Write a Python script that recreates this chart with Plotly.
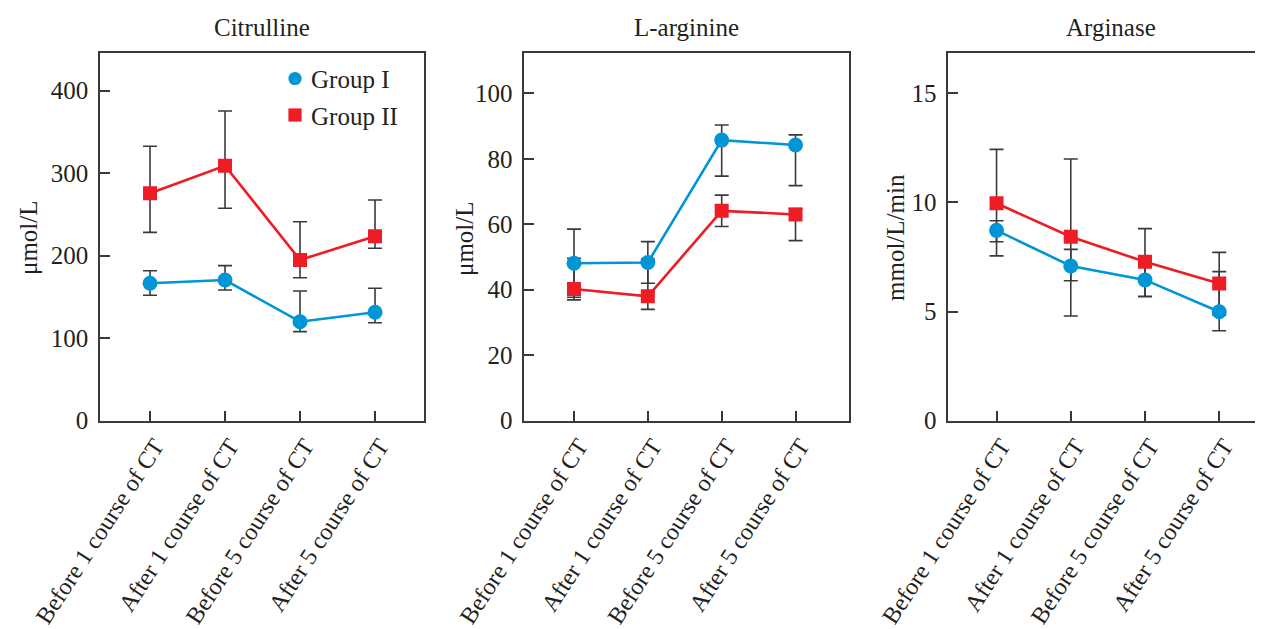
import plotly.graph_objects as go

# The page places the figure 8 px from the window's top-left corner,
# so the figure is sized to fill the rest of the 1263x629 window.
OFF = 8
W, H = 1263 - OFF, 629 - OFF

categories = ["Before 1 course of CT", "After 1 course of CT",
              "Before 5 course of CT", "After 5 course of CT"]

# Citrulline (µmol/L)
cit_g1 = [166.5, 170.5, 120.0, 131.4]
cit_g1_hi = [181.8, 187.9, 157.2, 160.5]
cit_g1_lo = [152.0, 158.4, 107.9, 118.8]
cit_g2 = [275.6, 309.0, 194.8, 223.5]
cit_g2_hi = [332.6, 375.4, 241.2, 267.5]
cit_g2_lo = [228.3, 257.4, 173.3, 209.0]

# L-arginine (µmol/L)
arg_g1 = [48.1, 48.3, 85.7, 84.2]
arg_g1_hi = [58.5, 54.7, 90.3, 87.3]
arg_g1_lo = [37.7, 42.0, 74.7, 71.8]
arg_g2 = [40.2, 38.0, 64.1, 63.0]
arg_g2_hi = [49.6, 49.4, 68.9, 64.8]
arg_g2_lo = [36.9, 34.0, 59.3, 55.0]

# Arginase (mmol/L/min)
ase_g1 = [8.72, 7.09, 6.45, 4.99]
ase_g1_hi = [9.16, 7.85, 7.22, 6.83]
ase_g1_lo = [8.20, 6.41, 5.68, 4.12]
ase_g2 = [9.96, 8.43, 7.28, 6.29]
ase_g2_hi = [12.43, 11.99, 8.80, 7.71]
ase_g2_lo = [7.55, 4.80, 5.70, 4.85]

group_names = ["Group I", "Group II"]
panel_titles = ["Citrulline", "L-arginine", "Arginase"]
y_titles = ["μmol/L", "μmol/L", "mmol/L/min"]
y_ranges = [[0, 446], [0, 112.4], [0, 16.86]]
y_dtick = [100, 20, 5]
x_ranges = [[-0.667, 3.653], [-0.673, 3.72], [-0.65, 3.59]]
x_px = [(100, 424), (524.3, 848.7), (948.3, 1263)]
y_px = (52.7, 420.7)

BLUE = "#0096d6"
RED = "#ee1c25"
AX = "#3a3a3a"
TXT = "#231f20"
FONT = "Liberation Serif"
FS = 25
FS_X = 24


def px(x):
    return (x - OFF) / W


def py(y):
    return 1 - (y - OFF) / H


panels = [
    (cit_g1, cit_g1_hi, cit_g1_lo, cit_g2, cit_g2_hi, cit_g2_lo),
    (arg_g1, arg_g1_hi, arg_g1_lo, arg_g2, arg_g2_hi, arg_g2_lo),
    (ase_g1, ase_g1_hi, ase_g1_lo, ase_g2, ase_g2_hi, ase_g2_lo),
]

xs = list(range(len(categories)))
fig = go.Figure()

for i, (g1, g1h, g1l, g2, g2h, g2l) in enumerate(panels):
    xa = "x" if i == 0 else f"x{i+1}"
    ya = "y" if i == 0 else f"y{i+1}"
    # error bars first (beneath lines and markers)
    for vals, hi, lo in [(g2, g2h, g2l), (g1, g1h, g1l)]:
        fig.add_trace(go.Scatter(
            x=xs, y=vals, xaxis=xa, yaxis=ya, mode="markers",
            marker=dict(size=1, opacity=0), showlegend=False, hoverinfo="skip",
            error_y=dict(type="data", symmetric=False,
                         array=[h - v for h, v in zip(hi, vals)],
                         arrayminus=[v - l for l, v in zip(lo, vals)],
                         color=AX, thickness=1.6, width=7)))
    fig.add_trace(go.Scatter(
        x=xs, y=g1, xaxis=xa, yaxis=ya, mode="lines+markers", name=group_names[0],
        line=dict(color=BLUE, width=2.6),
        marker=dict(symbol="circle", size=15, color=BLUE),
        showlegend=False))
    fig.add_trace(go.Scatter(
        x=xs, y=g2, xaxis=xa, yaxis=ya, mode="lines+markers", name=group_names[1],
        line=dict(color=RED, width=2.6),
        marker=dict(symbol="square", size=14, color=RED),
        showlegend=False))

layout = dict(
    width=W, height=H,
    margin=dict(l=0, r=0, t=0, b=0, autoexpand=False),
    paper_bgcolor="white", plot_bgcolor="white",
    font=dict(family=FONT, size=FS, color=TXT),
    showlegend=False,
)

annotations = []
shapes = []
for i in range(3):
    xk = "xaxis" if i == 0 else f"xaxis{i+1}"
    yk = "yaxis" if i == 0 else f"yaxis{i+1}"
    x0, x1 = x_px[i]
    layout[xk] = dict(
        domain=[px(x0), min(1.0, px(x1))], range=x_ranges[i],
        anchor="y" if i == 0 else f"y{i+1}",
        tickmode="array", tickvals=xs, ticktext=categories, tickangle=-57,
        ticks="inside", ticklen=10, tickwidth=1.5, tickcolor=AX,
        showline=True, linecolor=AX, linewidth=1.5, mirror=True,
        showgrid=False, zeroline=False, automargin=False, ticklabelshift=5,
        tickfont=dict(family=FONT, size=FS_X, color=TXT))
    layout[yk] = dict(
        domain=[py(y_px[1]), py(y_px[0])], range=y_ranges[i],
        anchor="x" if i == 0 else f"x{i+1}",
        tickmode="linear", tick0=0, dtick=y_dtick[i],
        ticks="inside", ticklen=10, tickwidth=1.5, tickcolor=AX,
        showline=True, linecolor=AX, linewidth=1.5, mirror=(i < 2),
        showgrid=False, zeroline=False, automargin=False, ticklabelstandoff=5,
        tickfont=dict(family=FONT, size=FS, color=TXT))
    # panel title
    cx = [262, 686.5, 1111][i]
    annotations.append(dict(text=panel_titles[i], xref="paper", yref="paper",
                            x=px(cx), y=py(27), xanchor="center", yanchor="middle",
                            showarrow=False, font=dict(family=FONT, size=FS, color=TXT)))
    # y-axis title
    tx = [28, 464, 895][i]
    annotations.append(dict(text=y_titles[i], xref="paper", yref="paper",
                            x=px(tx), y=py(238), xanchor="center", yanchor="middle",
                            textangle=-90, showarrow=False,
                            font=dict(family=FONT, size=FS, color=TXT)))

# legend (drawn at pixel positions on the paper)
lx, ly1, ly2, r = 295, 78.5, 115, 6.6
shapes.append(dict(type="circle", xref="paper", yref="paper",
                   x0=px(lx - r), x1=px(lx + r), y0=py(ly1 + r), y1=py(ly1 - r),
                   fillcolor=BLUE, line=dict(width=0)))
shapes.append(dict(type="rect", xref="paper", yref="paper",
                   x0=px(lx - r), x1=px(lx + r), y0=py(ly2 + r), y1=py(ly2 - r),
                   fillcolor=RED, line=dict(width=0)))
for name, yy in zip(group_names, [ly1, ly2]):
    annotations.append(dict(text=name, xref="paper", yref="paper",
                            x=px(309), y=py(yy + 1.5), xanchor="left", yanchor="middle",
                            showarrow=False, font=dict(family=FONT, size=FS, color=TXT)))

layout["annotations"] = annotations
layout["shapes"] = shapes
fig.update_layout(**layout)

fig.write_html("out.html")
